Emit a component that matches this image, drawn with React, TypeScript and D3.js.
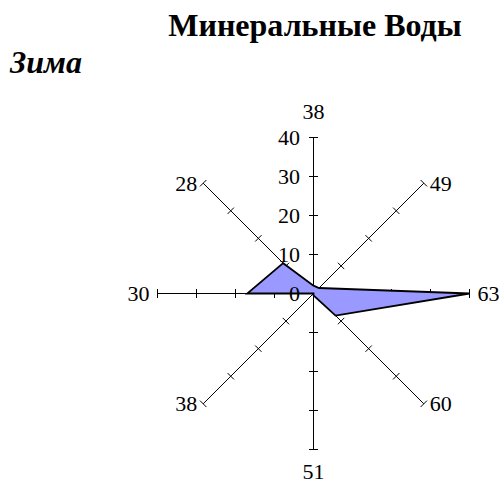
import React from "react";
import * as d3 from "d3";

// category labels, clockwise from the top
const categories = ["38", "49", "63", "60", "51", "38", "30", "28"];
// series values (winter)
const winter = [2, 2, 40, 8, 0.5, 0, 17, 11];
// radial axis ticks
const ticks = [0, 10, 20, 30, 40];

const W = 503;
const H = 484;
const cx = 313.5;
const cy = 293.5;
const R = 156;

export default function App() {
  const r = d3.scaleLinear().domain([0, 40]).range([0, R]);
  const angle = (i: number) => (i * 2 * Math.PI) / categories.length;
  const pt = (i: number, v: number): [number, number] => [
    cx + Math.sin(angle(i)) * r(v),
    cy - Math.cos(angle(i)) * r(v),
  ];

  const radar = d3
    .lineRadial<number>()
    .angle((_, i) => angle(i))
    .radius((d) => r(d))
    .curve(d3.curveLinearClosed);

  const font = "'Liberation Serif', 'Times New Roman', serif";

  return (
    <svg width={W} height={H} style={{ position: "absolute", left: 0, top: 0 }}>
      <text x={315} y={36} textAnchor="middle" fontFamily={font} fontWeight="bold" fontSize={32}>
        Минеральные Воды
      </text>
      <text x={10} y={73} fontFamily={font} fontWeight="bold" fontStyle="italic" fontSize={32}>
        Зима
      </text>

      {/* spokes with cross ticks */}
      {categories.map((c, i) => {
        const [x2, y2] = pt(i, 40);
        const a = angle(i);
        const px = Math.cos(a);
        const py = Math.sin(a);
        return (
          <g key={"ax" + i} stroke="#000" strokeWidth={1}>
            <line x1={cx} y1={cy} x2={x2} y2={y2} />
            {ticks.slice(1).map((t) => {
              const [tx, ty] = pt(i, t);
              return <line key={t} x1={tx - px * 4.5} y1={ty - py * 4.5} x2={tx + px * 4.5} y2={ty + py * 4.5} />;
            })}
          </g>
        );
      })}

      <path
        d={radar(winter) || ""}
        transform={`translate(${cx},${cy})`}
        fill="#9999ff"
        stroke="#000"
        strokeWidth={1.8}
        strokeLinejoin="miter"
      />

      {/* radial value labels */}
      {ticks.map((t) => (
        <text key={"t" + t} x={cx - 13.5} y={cy - r(t)} textAnchor="end" dominantBaseline="central" fontFamily={font} fontSize={22}>
          {t}
        </text>
      ))}

      {/* category labels */}
      {categories.map((c, i) => {
        const [ex, ey] = pt(i, 40);
        const s = Math.sin(angle(i));
        const co = -Math.cos(angle(i));
        let x = ex;
        let y = ey;
        let anchor = "middle";
        if (Math.abs(s) < 0.1) {
          y = ey + co * (co < 0 ? 26 : 21.5);
        } else {
          anchor = s > 0 ? "start" : "end";
          x = ex + (s > 0 ? 1 : -1) * (Math.abs(co) < 0.1 ? 8 : 6);
        }
        return (
          <text key={"c" + i} x={x} y={y} textAnchor={anchor} dominantBaseline="central" fontFamily={font} fontSize={22}>
            {c}
          </text>
        );
      })}
    </svg>
  );
}
